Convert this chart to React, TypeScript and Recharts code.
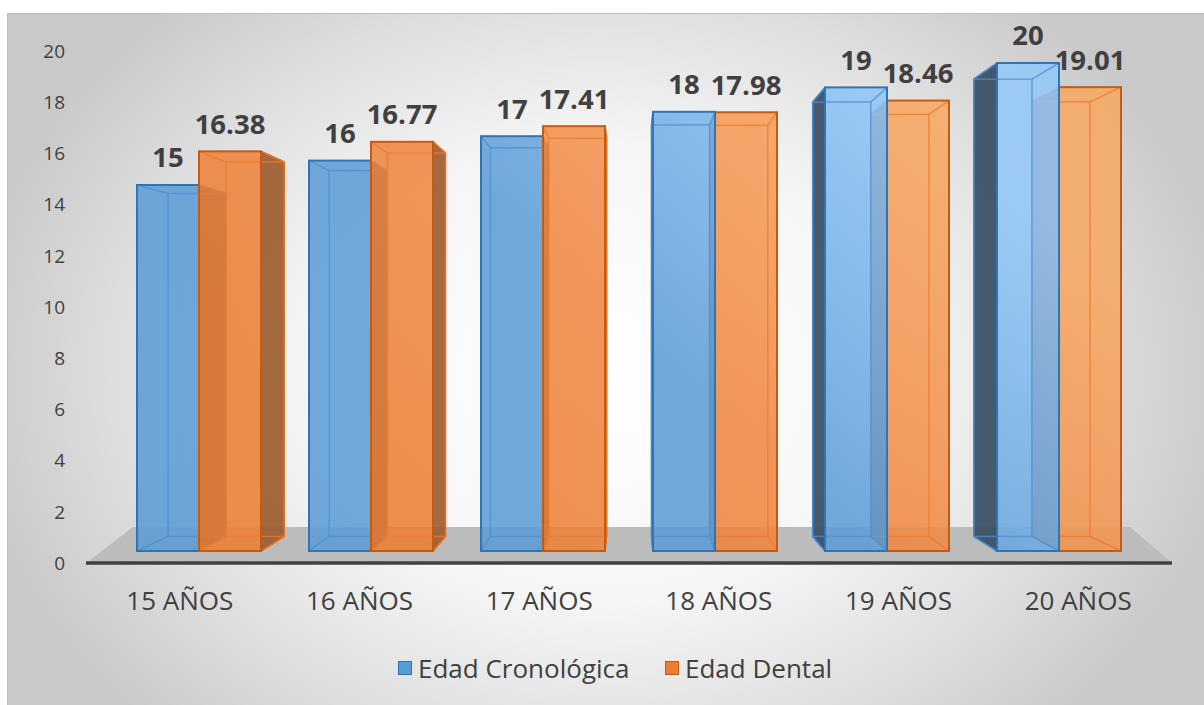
import React from 'react';
import { BarChart, Bar, XAxis, YAxis, LabelList } from 'recharts';

// ---- data ----
const categories = ['15 AÑOS', '16 AÑOS', '17 AÑOS', '18 AÑOS', '19 AÑOS', '20 AÑOS'];
const edadCronologica = [15, 16, 17, 18, 19, 20];
const edadDental = [16.38, 16.77, 17.41, 17.98, 18.46, 19.01];
const yTicks = [0, 2, 4, 6, 8, 10, 12, 14, 16, 18, 20];
const seriesNames = ['Edad Cronológica', 'Edad Dental'];

// From this category on, the boxes lean left (toward the vanishing point),
// so the dental box is painted first and the chronological box overlaps it.
const RIGHT_GROUP_START = 3;

const data = categories.map((cat, i) => {
  const right = i >= RIGHT_GROUP_START;
  return {
    cat,
    cronoIzq: right ? null : edadCronologica[i],
    dentalIzq: right ? null : edadDental[i],
    dentalDer: right ? edadDental[i] : null,
    cronoDer: right ? edadCronologica[i] : null,
  };
});

// ---- look ----
const FONT = "'Open Sans', 'Noto Sans', sans-serif";
const TEXT = '#404040';
const W = 1204;
const H = 705;

const BLUE = { fill: 'url(#gradAzul)', edge: '#2e75b6', inner: '#4d8fd3', side: '#34495f', swatch: '#5b9bd5' };
const ORANGE = { fill: 'url(#gradNaranja)', edge: '#c55a11', inner: '#f07a2a', side: '#9a5a2e', swatch: '#ed7d31' };

// one-point perspective used to extrude each bar into a box
const VP_X = 630;
const VP_Y = 320;
const DEPTH = 0.063;
const toBack = (v: number, vp: number) => v + DEPTH * (vp - v);
const pts = (arr: number[][]) => arr.map((p) => p.join(',')).join(' ');

type BoxStyle = typeof BLUE;

function makeBox(key: string, st: BoxStyle) {
  return function Box(props: any) {
    const { x, y, width, height, payload } = props;
    if (!payload || payload[key] == null || !(height > 0)) return <g />;
    const x0 = x;
    const x1 = x + width;
    const yT = y;
    const yB = y + height;
    const bx0 = toBack(x0, VP_X);
    const bx1 = toBack(x1, VP_X);
    const byT = toBack(yT, VP_Y);
    const byB = toBack(yB, VP_Y);
    const rightSide = bx1 > x1;
    const sx = rightSide ? x1 : x0;
    const sbx = rightSide ? bx1 : bx0;
    return (
      <g>
        <polygon
          points={pts([[sx, yT], [sbx, byT], [sbx, byB], [sx, yB]])}
          fill={st.side}
          fillOpacity={0.9}
          stroke={st.edge}
          strokeWidth={1.5}
          strokeLinejoin="round"
        />
        <rect x={x0} y={yT} width={width} height={height} fill={st.fill} fillOpacity={0.86} />
        <g stroke={st.inner} strokeWidth={1.5} strokeOpacity={0.75} fill="none">
          <rect x={bx0} y={byT} width={bx1 - bx0} height={byB - byT} />
          <line x1={x0} y1={yT} x2={bx0} y2={byT} />
          <line x1={x1} y1={yT} x2={bx1} y2={byT} />
          <line x1={x0} y1={yB} x2={bx0} y2={byB} />
          <line x1={x1} y1={yB} x2={bx1} y2={byB} />
        </g>
        <rect x={x0} y={yT} width={width} height={height} fill="none" stroke={st.edge} strokeWidth={2} />
      </g>
    );
  };
}

function makeLabel(key: string) {
  return function ValueLabel(props: any) {
    const vb = props.viewBox || props;
    const idx = props.index;
    const row: any = data[idx];
    if (!row || row[key] == null) return null;
    const cx = vb.x + vb.width / 2;
    const top = Math.min(vb.y, vb.y + vb.height);
    return (
      <text
        x={cx}
        y={top - 28}
        textAnchor="middle"
        dominantBaseline="central"
        fontFamily={FONT}
        fontWeight={700}
        fontSize={27.5}
        fill={TEXT}
      >
        {String(row[key])}
      </text>
    );
  };
}

const BAR_PROPS = {
  xAxisId: 'bars',
  yAxisId: 'bars',
  isAnimationActive: false,
  barSize: 62,
};

export default function App() {
  return (
    <div style={{ position: 'absolute', left: 0, top: 0, width: W, height: H, overflow: 'hidden', background: '#ffffff' }}>
      {/* chart area frame */}
      <div
        style={{
          position: 'absolute',
          left: 7,
          top: 13,
          width: W + 20,
          height: H + 20,
          borderTop: '1.5px solid #bdbdbd',
          borderLeft: '1.5px solid #bdbdbd',
          background:
            'radial-gradient(ellipse 640px 500px at 593px 360px, #ffffff 0%, #f6f6f6 45%, #dedede 76%, #c9c9c9 100%)',
        }}
      />
      {/* floor of the 3D plot */}
      <svg width={W} height={H} style={{ position: 'absolute', left: 0, top: 0 }}>
        <polygon points="86,563 133,527 1130,527 1172,563" fill="#bcbcbc" />
        <line x1={86} y1={563} x2={1172} y2={563} stroke="#404040" strokeWidth={3.5} />
      </svg>
      <div style={{ position: 'absolute', left: 0, top: 0 }}>
        <BarChart
          width={W}
          height={H}
          data={data}
          margin={{ top: 51, right: 36, bottom: 82, left: 30 }}
          barGap={0}
        >
          <defs>
            <linearGradient id="gradAzul" gradientUnits="userSpaceOnUse" x1={450} y1={560} x2={900} y2={80}>
              <stop offset="0" stopColor="#5b9bd5" />
              <stop offset="0.45" stopColor="#5b9bd5" />
              <stop offset="1" stopColor="#92c8fa" />
            </linearGradient>
            <linearGradient id="gradNaranja" gradientUnits="userSpaceOnUse" x1={450} y1={560} x2={900} y2={80}>
              <stop offset="0" stopColor="#ed7d31" />
              <stop offset="0.45" stopColor="#ef8540" />
              <stop offset="1" stopColor="#f8a760" />
            </linearGradient>
          </defs>
          <XAxis
            xAxisId="bars"
            dataKey="cat"
            type="category"
            hide
            height={0}
            padding={{ left: 23, right: 23 }}
          />
          <XAxis
            xAxisId="labels"
            dataKey="cat"
            type="category"
            interval={0}
            tickLine={false}
            tickSize={0}
            tickMargin={29}
            axisLine={false}
            height={60}
            tick={{ fontSize: 26, fill: TEXT, fontFamily: FONT }}
          />
          <YAxis yAxisId="bars" type="number" hide width={0} domain={[-0.4918, 20.4918]} allowDataOverflow />
          <YAxis
            yAxisId="ticks"
            type="number"
            domain={[0, 20]}
            allowDataOverflow
            ticks={yTicks}
            interval={0}
            tickLine={false}
            axisLine={false}
            tickSize={0}
            tickMargin={25}
            width={60}
            tick={{ fontSize: 19, fill: TEXT, fontFamily: FONT }}
          />

          <Bar {...BAR_PROPS} dataKey="cronoIzq" stackId="crono" name={seriesNames[0]} shape={makeBox('cronoIzq', BLUE)}>
            <LabelList dataKey="cronoIzq" content={makeLabel('cronoIzq')} />
          </Bar>
          <Bar {...BAR_PROPS} dataKey="dentalIzq" stackId="dental" name={seriesNames[1]} shape={makeBox('dentalIzq', ORANGE)}>
            <LabelList dataKey="dentalIzq" content={makeLabel('dentalIzq')} />
          </Bar>
          <Bar {...BAR_PROPS} dataKey="dentalDer" stackId="dental" name={seriesNames[1]} shape={makeBox('dentalDer', ORANGE)}>
            <LabelList dataKey="dentalDer" content={makeLabel('dentalDer')} />
          </Bar>
          <Bar {...BAR_PROPS} dataKey="cronoDer" stackId="crono" name={seriesNames[0]} shape={makeBox('cronoDer', BLUE)}>
            <LabelList dataKey="cronoDer" content={makeLabel('cronoDer')} />
          </Bar>
        </BarChart>
      </div>
      {/* legend */}
      {[BLUE, ORANGE].map((st, i) => (
        <div
          key={seriesNames[i]}
          style={{
            position: 'absolute',
            left: i === 0 ? 398 : 665,
            top: 651,
            height: 34,
            display: 'flex',
            alignItems: 'center',
            fontFamily: FONT,
            fontSize: 26,
            lineHeight: '34px',
            color: TEXT,
            whiteSpace: 'nowrap',
          }}
        >
          <span
            style={{
              display: 'inline-block',
              width: 12,
              height: 12,
              background: st.swatch,
              border: `1.5px solid ${st.edge}`,
              marginRight: 6,
            }}
          />
          <span>{seriesNames[i]}</span>
        </div>
      ))}
    </div>
  );
}
